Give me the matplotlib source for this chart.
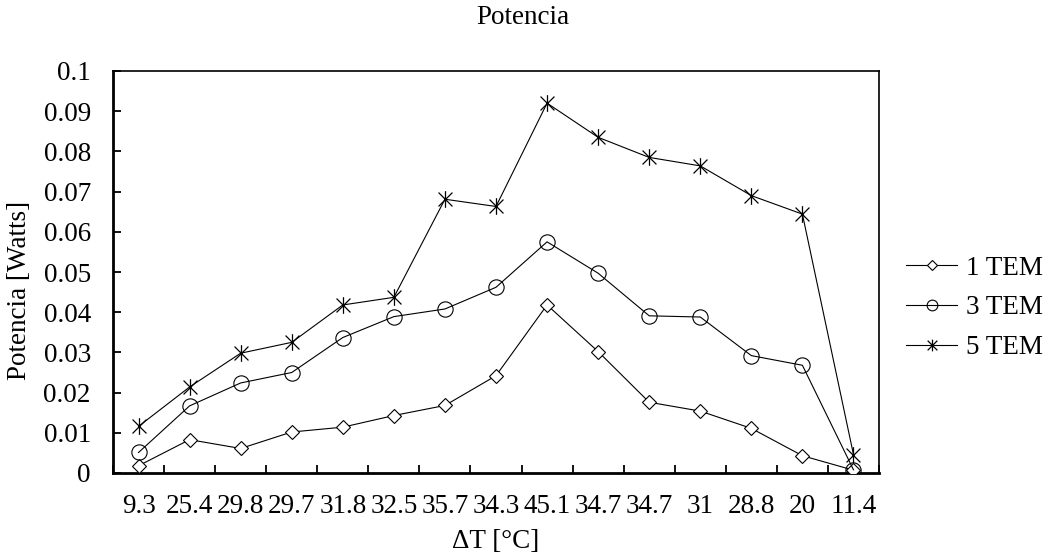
import matplotlib
matplotlib.use("Agg")
import matplotlib.pyplot as plt
from matplotlib.path import Path
import numpy as np

categories = ["9.3", "25.4", "29.8", "29.7", "31.8", "32.5", "35.7", "34.3",
              "45.1", "34.7", "34.7", "31", "28.8", "20", "11.4"]
tem1 = [0.0018, 0.0083, 0.0061, 0.0102, 0.0114, 0.0143, 0.0168, 0.0242,
        0.0418, 0.0302, 0.0176, 0.0154, 0.0111, 0.0043, 0.0007]
tem3 = [0.0051, 0.0167, 0.0224, 0.0250, 0.0337, 0.0389, 0.0408, 0.0462,
        0.0575, 0.0497, 0.0391, 0.0388, 0.0292, 0.0268, 0.0008]
tem5 = [0.0116, 0.0214, 0.0298, 0.0325, 0.0418, 0.0437, 0.0681, 0.0663,
        0.0920, 0.0835, 0.0785, 0.0764, 0.0690, 0.0644, 0.0046]
series_names = ["1 TEM", "3 TEM", "5 TEM"]
yticks = [0, 0.01, 0.02, 0.03, 0.04, 0.05, 0.06, 0.07, 0.08, 0.09, 0.1]
ytick_labels = ["0", "0.01", "0.02", "0.03", "0.04", "0.05", "0.06", "0.07",
                "0.08", "0.09", "0.1"]

plt.rcParams['font.family'] = ['Liberation Serif', 'DejaVu Serif']
FS = 19.5

star = Path([(-1, -1), (1, 1), (-1, 1), (1, -1), (0, -1.2), (0, 1.2)],
            [Path.MOVETO, Path.LINETO, Path.MOVETO, Path.LINETO, Path.MOVETO, Path.LINETO])

fig = plt.figure(figsize=(10.44, 5.59), dpi=100)
ax = fig.add_axes([113/1044, 1-473/559, (879-113)/1044, (473-71)/559])

x = np.arange(len(categories))
ax.plot(x, tem1, color='black', lw=0.8, marker='D', markersize=7,
        markerfacecolor='white', markeredgecolor='black', markeredgewidth=0.8,
        label=series_names[0], zorder=3)
ax.plot(x, tem3, color='black', lw=0.8, marker='o', markersize=11,
        markerfacecolor='none', markeredgecolor='black', markeredgewidth=0.8,
        label=series_names[1], zorder=3)
ax.plot(x, tem5, color='black', lw=0.8, marker=star, markersize=12,
        markeredgecolor='black', markeredgewidth=0.9,
        label=series_names[2], zorder=3)

ax.set_xlim(-0.5, len(categories)-0.5)
ax.set_ylim(0, 0.1)
ax.set_xticks(x)
ax.set_xticklabels(categories, fontsize=FS)
ax.set_xticks(np.arange(len(categories)+1)-0.5, minor=True)
ax.tick_params(axis='x', which='major', length=0, pad=15)
ax.tick_params(axis='x', which='minor', direction='in', length=6, width=1.3)
ax.set_yticks(yticks)
ax.set_yticklabels(ytick_labels, fontsize=FS)
ax.tick_params(axis='y', direction='in', length=6, width=1.3, pad=16)

for s in ['left', 'bottom']:
    ax.spines[s].set_linewidth(2.0)
for s in ['top', 'right']:
    ax.spines[s].set_linewidth(1.2)

fig.text(523/1044, 1-18/559, "Potencia", ha='center', va='center', fontsize=FS)
fig.text(496/1044, 1-541/559, "ΔT [°C]", ha='center', va='center', fontsize=FS)
fig.text(20/1044, 1-290/559, "Potencia [Watts]", ha='center', va='center',
         rotation=90, fontsize=FS)

ax.legend(loc='center left', bbox_to_anchor=(906/1044, 1-308/559),
          bbox_transform=fig.transFigure, frameon=False, fontsize=FS,
          handlelength=1.9, handletextpad=0.3, labelspacing=0.55,
          borderpad=0, borderaxespad=0, markerscale=0.7)

fig.savefig("out.png", dpi=100)
